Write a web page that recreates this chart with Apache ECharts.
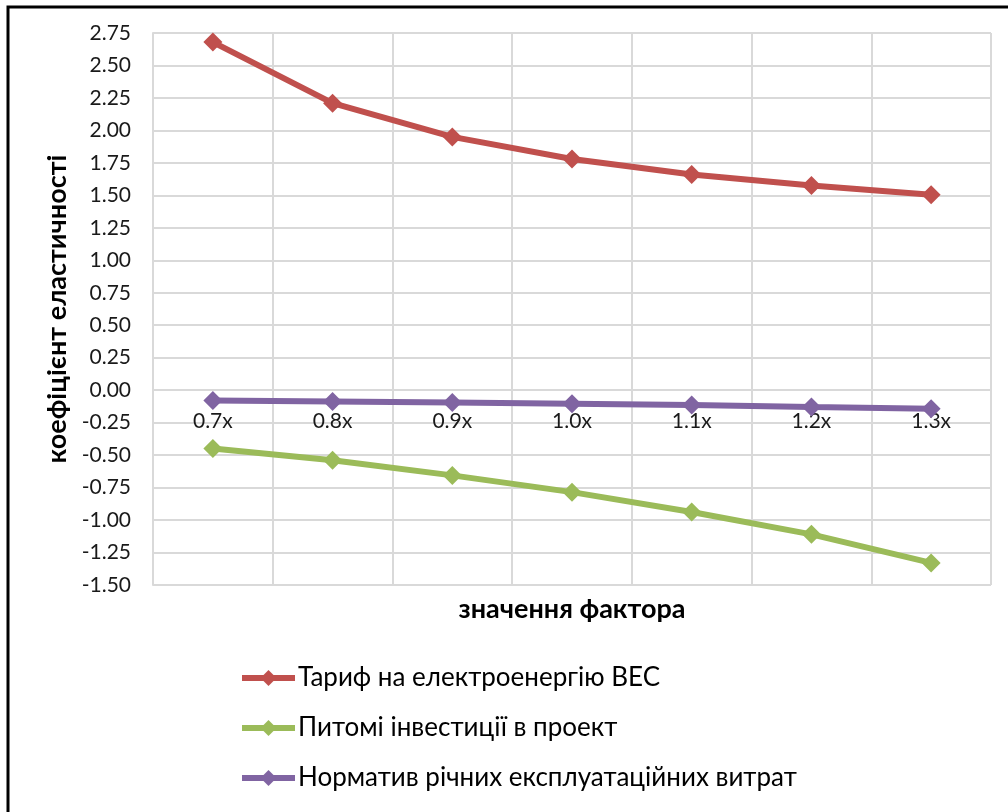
<!DOCTYPE html>
<html>
<head>
<meta charset="utf-8">
<script src="https://cdn.jsdelivr.net/npm/echarts@6/dist/echarts.min.js"></script>
<style>html,body{margin:0;padding:0;background:#fff}#c{width:1008px;height:812px}</style>
</head>
<body>
<div id="c"></div>
<script>
const categories = ['0.7x','0.8x','0.9x','1.0x','1.1x','1.2x','1.3x'];
const tariff = [2.68, 2.21, 1.95, 1.78, 1.66, 1.575, 1.505];
const investments = [-0.449, -0.54, -0.656, -0.785, -0.938, -1.11, -1.33];
const opex = [-0.079, -0.087, -0.095, -0.105, -0.115, -0.13, -0.143];
const seriesNames = ['Тариф на електроенергію ВЕС','Питомі інвестиції в проект','Норматив річних експлуатаційних витрат'];
const yTitle = 'коефіцієнт еластичності';
const xTitle = 'значення фактора';
const yMin = -1.5, yMax = 2.75, yStep = 0.25;

const FONT = 'Lato, "Noto Sans", sans-serif';
const GRID_TOP = 33, GRID_BOTTOM = 227, H = 812;
const plotH = H - GRID_TOP - GRID_BOTTOM;
// x axis crosses the value axis at 0
const zeroOffset = -plotH * (0 - yMin) / (yMax - yMin);

const chart = echarts.init(document.getElementById('c'), null, {renderer:'canvas'});
function mk(name, data, color){
  return {name, type:'line', data, color, symbol:'diamond', symbolSize:19,
    lineStyle:{width:6, color}, itemStyle:{color}, animation:false};
}
chart.setOption({
  animation:false,
  textStyle:{fontFamily:FONT},
  grid:{left:153, right:17, top:GRID_TOP, bottom:GRID_BOTTOM},
  xAxis:[{type:'category', data:categories, boundaryGap:true, offset:zeroOffset,
    axisLine:{onZero:false, lineStyle:{color:'#d9d9d9', width:2}},
    axisTick:{show:false},
    axisLabel:{color:'#1a1a1a', fontSize:21, fontFamily:FONT, margin:21},
    splitLine:{show:true, lineStyle:{color:'#d9d9d9', width:2}}}],
  yAxis:{type:'value', min:yMin, max:yMax, interval:yStep,
    name:yTitle, nameLocation:'middle', nameGap:79,
    nameTextStyle:{fontSize:27, fontWeight:'bold', color:'#000', fontFamily:FONT},
    axisLine:{show:true, lineStyle:{color:'#d9d9d9', width:2}},
    axisTick:{show:false},
    axisLabel:{color:'#1a1a1a', fontSize:21, fontFamily:FONT, margin:22, formatter:v=>v.toFixed(2)},
    splitLine:{lineStyle:{color:'#d9d9d9', width:2}}},
  legend:{orient:'vertical', left:234, top:660, itemWidth:53, itemHeight:20, itemGap:24,
    lineStyle:{width:6},
    textStyle:{fontSize:26, color:'#000', fontFamily:FONT, padding:[0,0,0,-2]},
    data:seriesNames},
  graphic:[
    {type:'rect', shape:{x:8, y:7, width:1100, height:900}, style:{fill:'none', stroke:'#000', lineWidth:3}, silent:true},
    {type:'text', x:572, y:609, style:{text:xTitle, font:'bold 27px '+FONT, fill:'#000', textAlign:'center', textVerticalAlign:'middle'}}
  ],
  series:[mk(seriesNames[0], tariff, '#C0504D'), mk(seriesNames[1], investments, '#9BBB59'), mk(seriesNames[2], opex, '#8064A2')]
});
</script>
</body>
</html>
